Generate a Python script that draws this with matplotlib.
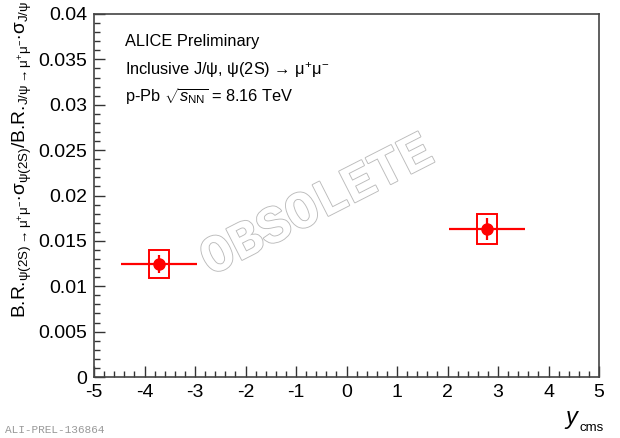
import matplotlib
matplotlib.use('Agg')
import matplotlib.pyplot as plt
import matplotlib.patheffects as pe
from matplotlib.patches import Rectangle
from matplotlib.ticker import MultipleLocator, FuncFormatter

plt.rcParams['font.family'] = ['Liberation Sans', 'DejaVu Sans']
plt.rcParams['mathtext.fontset'] = 'custom'
plt.rcParams['mathtext.rm'] = 'Liberation Sans'
plt.rcParams['mathtext.it'] = 'Liberation Sans:italic'
plt.rcParams['axes.unicode_minus'] = False

# data: psi(2S)/J/psi ratio vs y_cms
y_cms = [-3.71, 2.78]
y_halfwidth = [0.75, 0.75]
ratio = [0.01245, 0.01632]
stat_err = [0.0010, 0.0012]
syst_err = [0.00152, 0.00165]
syst_box_halfwidth = 0.2

red = '#ff0000'

fig = plt.figure(figsize=(6.2, 4.38), dpi=100)
ax = fig.add_axes([94/620, 1-377/438, 505/620, 363/438])

# systematic boxes
for x, y, s in zip(y_cms, ratio, syst_err):
    ax.add_patch(Rectangle((x - syst_box_halfwidth, y - s), 2*syst_box_halfwidth, 2*s,
                           fill=False, edgecolor=red, linewidth=1.4, zorder=3))

ax.errorbar(y_cms, ratio, xerr=y_halfwidth, yerr=stat_err, fmt='o', color=red,
            markersize=8, elinewidth=1.6, capsize=0, zorder=4)

ax.set_xlim(-5, 5)
ax.set_ylim(0, 0.04)
ax.xaxis.set_major_locator(MultipleLocator(1))
ax.xaxis.set_minor_locator(MultipleLocator(0.2))
ax.yaxis.set_major_locator(MultipleLocator(0.005))
ax.yaxis.set_minor_locator(MultipleLocator(0.001))
ax.xaxis.set_major_formatter(FuncFormatter(lambda v, p: '%g' % v))
ax.yaxis.set_major_formatter(FuncFormatter(lambda v, p: '%g' % round(v, 4)))
ax.tick_params(which='both', direction='in', top=False, right=False, labelsize=14, color='#333333')
ax.tick_params(which='major', length=8, width=1)
ax.tick_params(which='minor', length=4, width=1)
ax.tick_params(axis='x', pad=5)
ax.tick_params(axis='y', pad=5)
for sp in ax.spines.values():
    sp.set_color('#444444')
    sp.set_linewidth(1.2)

# axis titles
ylab = (r'B.R.$_{\mathrm{\psi(2S)}{\rightarrow}\mathrm{\mu^{+}\mu^{-}}}{\cdot}\mathrm{\sigma}_{\mathrm{\psi(2S)}}$'
        r'/B.R.$_{\mathrm{J/\psi}{\rightarrow}\mathrm{\mu^{+}\mu^{-}}}{\cdot}\mathrm{\sigma}_{\mathrm{J/\psi}}$')
fig.text(22/620, 1 - 1/438, ylab, rotation=90, ha='center', va='top', fontsize=13.8)
fig.text(577/620, 1 - 424/438, 'y', style='italic', fontsize=17, ha='right', va='baseline')
fig.text(580/620, 1 - 431/438, 'cms', fontsize=9.5, ha='left', va='baseline')

# labels inside the frame
ax.text(125/620, 1 - 46/438, 'ALICE Preliminary', transform=fig.transFigure, fontsize=11.8)
ax.text(125/620, 1 - 75/438, 'Inclusive J/ψ, ψ(2S) → μ$^{+}$μ$^{-}$',
        transform=fig.transFigure, fontsize=11.8)
ax.text(125/620, 1 - 102/438, r'p-Pb $\sqrt{s_{\rm NN}}$ = 8.16 TeV',
        transform=fig.transFigure, fontsize=11.8)

# watermark
wm = fig.text(317/620, 1 - 206/438, 'OBSOLETE', family='Liberation Mono', weight='bold',
              fontsize=38, rotation=27, ha='center', va='center', color='white', zorder=2)
wm.set_path_effects([pe.Stroke(linewidth=1.3, foreground='#bbbbbb'), pe.Normal()])

fig.text(5/620, 1 - 433/438, 'ALI-PREL-136864', family='Liberation Mono', fontsize=8,
         color='#999999', va='baseline')

fig.savefig('out.png', dpi=100)
